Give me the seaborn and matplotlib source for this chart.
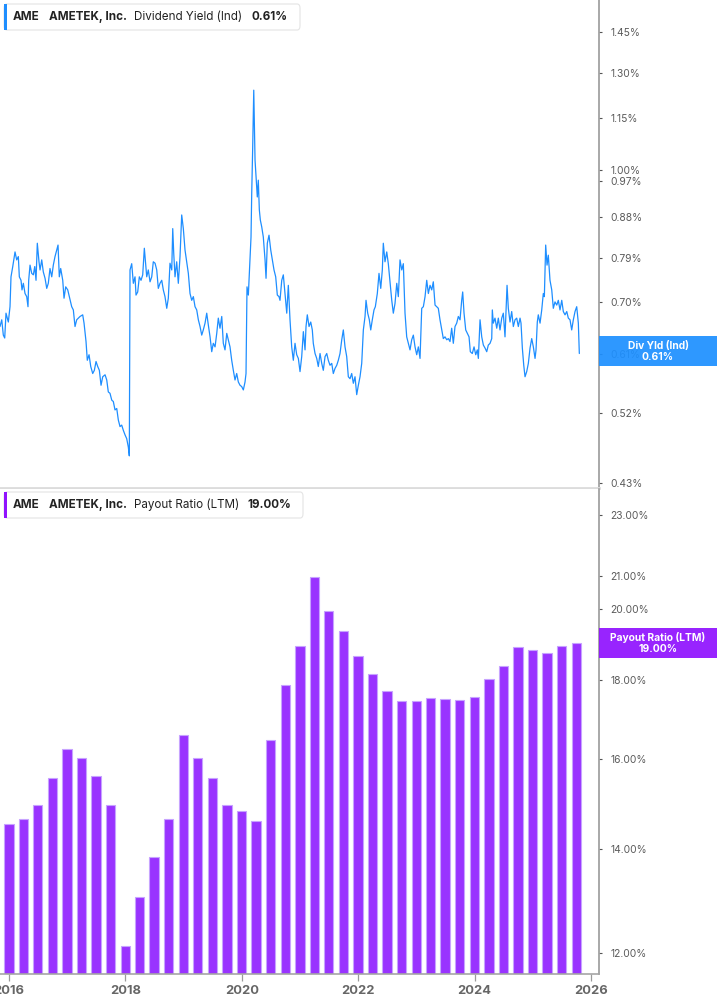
import numpy as np
import pandas as pd
import matplotlib.pyplot as plt
import seaborn as sns
from matplotlib.patches import Rectangle, FancyBboxPatch
from matplotlib.ticker import FixedLocator, FixedFormatter, NullLocator

# ---- data ----
# dividend yield (indicated), % -- decimal year / value
yield_dates = [
    2015.845, 2015.875, 2015.902, 2015.926, 2015.948, 2015.988, 2016.017, 2016.034, 2016.064, 2016.103,
    2016.132, 2016.160, 2016.177, 2016.206, 2016.223, 2016.246, 2016.275, 2016.304, 2016.326, 2016.338,
    2016.361, 2016.390, 2016.418, 2016.442, 2016.464, 2016.486, 2016.515, 2016.533, 2016.562, 2016.589,
    2016.619, 2016.648, 2016.675, 2016.704, 2016.734, 2016.761, 2016.790, 2016.820, 2016.842, 2016.864,
    2016.888, 2016.923, 2016.945, 2016.974, 2017.009, 2017.036, 2017.077, 2017.105, 2017.134, 2017.163,
    2017.191, 2017.220, 2017.266, 2017.289, 2017.323, 2017.345, 2017.375, 2017.404, 2017.438, 2017.466,
    2017.495, 2017.524, 2017.552, 2017.581, 2017.610, 2017.650, 2017.679, 2017.706, 2017.735, 2017.765,
    2017.792, 2017.821, 2017.851, 2017.878, 2017.907, 2017.936, 2017.964, 2017.993, 2018.022, 2018.050,
    2018.067, 2018.079, 2018.108, 2018.136, 2018.165, 2018.182, 2018.211, 2018.239, 2018.268, 2018.297,
    2018.325, 2018.366, 2018.393, 2018.423, 2018.452, 2018.479, 2018.509, 2018.538, 2018.565, 2018.594,
    2018.624, 2018.651, 2018.680, 2018.710, 2018.737, 2018.766, 2018.796, 2018.813, 2018.830, 2018.852,
    2018.881, 2018.909, 2018.938, 2018.967, 2018.995, 2019.024, 2019.053, 2019.081, 2019.110, 2019.139,
    2019.167, 2019.196, 2019.225, 2019.253, 2019.282, 2019.311, 2019.338, 2019.368, 2019.397, 2019.424,
    2019.454, 2019.483, 2019.510, 2019.540, 2019.569, 2019.596, 2019.625, 2019.655, 2019.682, 2019.711,
    2019.741, 2019.768, 2019.797, 2019.826, 2019.854, 2019.883, 2019.912, 2019.940, 2019.969, 2019.998,
    2020.026, 2020.055, 2020.072, 2020.089, 2020.112, 2020.141, 2020.158, 2020.170, 2020.187, 2020.205,
    2020.227, 2020.249, 2020.266, 2020.283, 2020.301, 2020.318, 2020.342, 2020.369, 2020.399, 2020.416,
    2020.438, 2020.467, 2020.497, 2020.524, 2020.553, 2020.582, 2020.610, 2020.639, 2020.656, 2020.686,
    2020.713, 2020.742, 2020.772, 2020.799, 2020.828, 2020.857, 2020.885, 2020.914, 2020.943, 2020.971,
    2021.000, 2021.029, 2021.057, 2021.086, 2021.103, 2021.125, 2021.155, 2021.184, 2021.211, 2021.228,
    2021.258, 2021.287, 2021.314, 2021.344, 2021.373, 2021.400, 2021.430, 2021.459, 2021.486, 2021.515,
    2021.545, 2021.572, 2021.601, 2021.631, 2021.658, 2021.687, 2021.717, 2021.744, 2021.773, 2021.802,
    2021.830, 2021.859, 2021.888, 2021.916, 2021.945, 2021.974, 2022.002, 2022.031, 2022.060, 2022.088,
    2022.117, 2022.134, 2022.163, 2022.191, 2022.215, 2022.242, 2022.271, 2022.294, 2022.328, 2022.357,
    2022.387, 2022.414, 2022.431, 2022.460, 2022.490, 2022.517, 2022.546, 2022.576, 2022.603, 2022.632,
    2022.662, 2022.689, 2022.718, 2022.748, 2022.775, 2022.804, 2022.833, 2022.861, 2022.890, 2022.919,
    2022.947, 2022.976, 2023.005, 2023.033, 2023.062, 2023.091, 2023.119, 2023.148, 2023.177, 2023.205,
    2023.234, 2023.263, 2023.290, 2023.320, 2023.349, 2023.376, 2023.405, 2023.435, 2023.462, 2023.491,
    2023.521, 2023.548, 2023.577, 2023.606, 2023.634, 2023.663, 2023.692, 2023.720, 2023.749, 2023.778,
    2023.795, 2023.818, 2023.847, 2023.875, 2023.904, 2023.926, 2023.960, 2023.990, 2024.019, 2024.046,
    2024.064, 2024.081, 2024.093, 2024.122, 2024.150, 2024.179, 2024.208, 2024.235, 2024.265, 2024.294,
    2024.304, 2024.321, 2024.350, 2024.380, 2024.407, 2024.436, 2024.466, 2024.493, 2024.522, 2024.539,
    2024.557, 2024.579, 2024.608, 2024.637, 2024.665, 2024.694, 2024.723, 2024.751, 2024.780, 2024.797,
    2024.820, 2024.844, 2024.866, 2024.895, 2024.923, 2024.952, 2024.981, 2025.009, 2025.038, 2025.055,
    2025.077, 2025.094, 2025.124, 2025.153, 2025.180, 2025.198, 2025.221, 2025.244, 2025.266, 2025.295,
    2025.325, 2025.352, 2025.381, 2025.411, 2025.438, 2025.467, 2025.497, 2025.524, 2025.553, 2025.583,
    2025.610, 2025.639, 2025.668, 2025.696, 2025.725, 2025.754, 2025.782, 2025.799,
]
yield_values = [
    0.656, 0.668, 0.641, 0.636, 0.680, 0.664, 0.692, 0.750, 0.771, 0.802,
    0.785, 0.792, 0.750, 0.743, 0.724, 0.737, 0.717, 0.711, 0.692, 0.743,
    0.774, 0.757, 0.754, 0.771, 0.743, 0.821, 0.781, 0.764, 0.785, 0.760,
    0.747, 0.727, 0.737, 0.767, 0.750, 0.774, 0.792, 0.806, 0.817, 0.750,
    0.767, 0.743, 0.708, 0.730, 0.724, 0.711, 0.692, 0.686, 0.656, 0.668,
    0.671, 0.674, 0.677, 0.662, 0.630, 0.599, 0.608, 0.589, 0.578, 0.583,
    0.597, 0.589, 0.583, 0.560, 0.573, 0.576, 0.568, 0.550, 0.548, 0.538,
    0.536, 0.524, 0.526, 0.510, 0.501, 0.503, 0.496, 0.490, 0.485, 0.474,
    0.463, 0.764, 0.777, 0.737, 0.750, 0.714, 0.720, 0.750, 0.743, 0.754,
    0.810, 0.750, 0.764, 0.740, 0.750, 0.781, 0.778, 0.764, 0.727, 0.737,
    0.743, 0.724, 0.711, 0.689, 0.708, 0.778, 0.764, 0.854, 0.799, 0.750,
    0.781, 0.737, 0.792, 0.886, 0.854, 0.806, 0.781, 0.757, 0.717, 0.704,
    0.711, 0.692, 0.686, 0.668, 0.656, 0.641, 0.650, 0.662, 0.680, 0.659,
    0.638, 0.613, 0.627, 0.621, 0.644, 0.671, 0.653, 0.674, 0.627, 0.616,
    0.644, 0.633, 0.621, 0.599, 0.583, 0.568, 0.578, 0.565, 0.560, 0.558,
    0.553, 0.565, 0.578, 0.730, 0.714, 0.785, 0.835, 0.939, 1.065, 1.240,
    1.027, 0.973, 0.930, 0.973, 0.898, 0.874, 0.858, 0.835, 0.785, 0.747,
    0.821, 0.839, 0.806, 0.785, 0.764, 0.750, 0.714, 0.711, 0.704, 0.743,
    0.754, 0.717, 0.680, 0.733, 0.668, 0.621, 0.599, 0.627, 0.608, 0.602,
    0.581, 0.605, 0.647, 0.616, 0.656, 0.677, 0.656, 0.664, 0.650, 0.627,
    0.610, 0.602, 0.589, 0.610, 0.594, 0.583, 0.605, 0.610, 0.599, 0.591,
    0.594, 0.578, 0.586, 0.591, 0.599, 0.610, 0.633, 0.650, 0.621, 0.605,
    0.573, 0.570, 0.578, 0.563, 0.573, 0.546, 0.560, 0.573, 0.594, 0.650,
    0.674, 0.704, 0.680, 0.668, 0.650, 0.668, 0.686, 0.692, 0.717, 0.757,
    0.727, 0.764, 0.821, 0.781, 0.802, 0.777, 0.740, 0.704, 0.680, 0.698,
    0.737, 0.711, 0.785, 0.764, 0.777, 0.680, 0.638, 0.627, 0.616, 0.633,
    0.641, 0.621, 0.608, 0.621, 0.602, 0.689, 0.692, 0.711, 0.743, 0.717,
    0.733, 0.724, 0.740, 0.695, 0.692, 0.689, 0.668, 0.650, 0.635, 0.638,
    0.633, 0.635, 0.630, 0.653, 0.627, 0.656, 0.662, 0.674, 0.668, 0.704,
    0.720, 0.680, 0.650, 0.644, 0.638, 0.613, 0.610, 0.621, 0.608, 0.616,
    0.602, 0.638, 0.668, 0.638, 0.624, 0.619, 0.613, 0.624, 0.627, 0.635,
    0.686, 0.662, 0.671, 0.653, 0.671, 0.650, 0.671, 0.680, 0.638, 0.683,
    0.733, 0.689, 0.664, 0.683, 0.656, 0.668, 0.671, 0.656, 0.671, 0.662,
    0.619, 0.591, 0.573, 0.581, 0.594, 0.619, 0.635, 0.621, 0.602, 0.616,
    0.664, 0.677, 0.662, 0.686, 0.717, 0.711, 0.817, 0.774, 0.795, 0.743,
    0.724, 0.689, 0.701, 0.695, 0.704, 0.686, 0.704, 0.683, 0.677, 0.683,
    0.671, 0.668, 0.650, 0.668, 0.683, 0.692, 0.662, 0.610,
]

# payout ratio (LTM), % -- one bar per quarter end
payout_quarters = pd.period_range("2015Q4", "2025Q3", freq="Q")
payout_values = [
    14.54, 14.65, 14.95, 15.56, 16.25, 16.03, 15.60, 14.95,
    12.13, 13.04, 13.83, 14.63, 16.58, 16.03, 15.55, 14.95,
    14.81, 14.60, 16.47, 17.86, 18.92, 20.96, 19.93, 19.35,
    18.64, 18.15, 17.70, 17.45, 17.44, 17.51, 17.49, 17.47,
    17.55, 18.02, 18.37, 18.90, 18.81, 18.74, 18.94, 19.00,
]

yield_ticks = [0.43, 0.52, 0.61, 0.70, 0.79, 0.88, 0.97, 1.00, 1.15, 1.30, 1.45]
payout_ticks = [12, 14, 16, 18, 20, 21, 23]
year_ticks = [2016, 2018, 2020, 2022, 2024, 2026]

BLUE = "#1E8EFF"
PURPLE = "#9933FF"
PURPLE_LBL = "#9013FE"


def to_decimal_year(ts):
    start = pd.Timestamp(year=ts.year, month=1, day=1)
    days = 366 if ts.is_leap_year else 365
    return ts.year + (ts - start).days / days


bar_x = [to_decimal_year(p.end_time.normalize()) for p in payout_quarters]

sns.set_theme(style="white")
plt.rcParams["font.family"] = ["Inter", "DejaVu Sans"]

W, H = 717, 1005
fig = plt.figure(figsize=(W / 100, H / 100), dpi=100)


def fx(px):
    return px / W


def fy(py):
    return 1 - py / H


ax1 = fig.add_axes([0, fy(488), fx(599), 488 / H])
ax2 = fig.add_axes([0, fy(974), fx(599), (974 - 489) / H])

# top: dividend yield line
df_y = pd.DataFrame({"date": yield_dates, "yield": yield_values})
sns.lineplot(data=df_y, x="date", y="yield", ax=ax1, color=BLUE,
             linewidth=0.9, estimator=None)

# bottom: payout ratio bars
df_p = pd.DataFrame({"date": bar_x, "payout": payout_values})
sns.barplot(data=df_p, x="date", y="payout", ax=ax2, native_scale=True,
            color=PURPLE, saturation=1, width=0.65,
            edgecolor="#C7A3FF", linewidth=0.8)

xmin, xmax = 2015.845, 2026.137
for ax in (ax1, ax2):
    ax.set_xlim(xmin, xmax)
    ax.set_yscale("log")
    ax.set_xlabel("")
    ax.set_ylabel("")
    ax.yaxis.tick_right()
    ax.yaxis.set_minor_locator(NullLocator())
    ax.spines["top"].set_visible(False)
    ax.spines["left"].set_visible(False)
    ax.spines["right"].set_color("#9a9a9a")
    ax.spines["right"].set_linewidth(1.2)
    ax.tick_params(axis="y", which="major", length=2, width=0.8, color="#555555",
                   labelsize=7.4, labelcolor="#5a5a5a", pad=6, right=True, left=False)
    ax.set_facecolor("white")

ax1.set_ylim(0.4246, 1.581)
ax1.yaxis.set_major_locator(FixedLocator(yield_ticks))
ax1.yaxis.set_major_formatter(FixedFormatter([f"{t:.2f}%" for t in yield_ticks]))
ax1.set_xticks([])
ax1.spines["bottom"].set_color("#dcdcdc")
ax1.spines["bottom"].set_linewidth(2)

ax2.set_ylim(11.63, 23.9)
ax2.yaxis.set_major_locator(FixedLocator(payout_ticks))
ax2.yaxis.set_major_formatter(FixedFormatter([f"{t:.2f}%" for t in payout_ticks]))
ax2.set_xticks(year_ticks)
ax2.set_xticklabels([str(y) for y in year_ticks])
ax2.xaxis.set_minor_locator(NullLocator())
ax2.spines["bottom"].set_color("#a5a5a5")
ax2.spines["bottom"].set_linewidth(1.2)
ax2.tick_params(axis="x", length=5, width=0.9, color="#9a9a9a", labelsize=9.3,
                labelcolor="#666666", pad=3, bottom=True)
for lbl in ax2.get_xticklabels():
    lbl.set_fontweight("bold")


# legend header boxes
def header(top, bottom, right, color, words):
    box = FancyBboxPatch((fx(4), fy(bottom)), fx(right - 4), (bottom - top) / H,
                         boxstyle="round,pad=0,rounding_size=0.004",
                         transform=fig.transFigure, fc="white", ec="#e4e4e4",
                         lw=0.8, zorder=5)
    fig.patches.append(box)
    fig.patches.append(Rectangle((fx(4), fy(bottom)), fx(3), (bottom - top) / H,
                                 transform=fig.transFigure, fc=color, ec="none",
                                 zorder=6))
    yc = fy((top + bottom) / 2)
    for x, txt, w in words:
        fig.text(fx(x), yc, txt, fontsize=8.4, fontweight=w, color="#222222",
                 ha="left", va="center", zorder=7)


header(4, 30, 300, BLUE, [(13, "AME", "bold"), (49, "AMETEK, Inc.", "bold"),
                          (134, "Dividend Yield (Ind)", "normal"), (251, "0.61%", "bold")])
header(492, 518, 303, PURPLE_LBL, [(13, "AME", "bold"), (49, "AMETEK, Inc.", "bold"),
                                   (134, "Payout Ratio (LTM)", "normal"), (247, "19.00%", "bold")])


# last-value tags on the right axis
def tag(top, bottom, color, line1, line2):
    fig.patches.append(Rectangle((fx(599), fy(bottom)), fx(118), (bottom - top) / H,
                                 transform=fig.transFigure, fc=color, ec="none",
                                 alpha=0.93, zorder=5))
    mid = (top + bottom) / 2
    fig.text(fx(658), fy(mid - 5.5), line1, color="white", fontsize=7.4,
             fontweight="bold", ha="center", va="center", zorder=6)
    fig.text(fx(658), fy(mid + 5.5), line2, color="white", fontsize=7.4,
             fontweight="bold", ha="center", va="center", zorder=6)


tag(336, 366, "#1E90FF", "Div Yld (Ind)", "0.61%")
tag(628, 658, PURPLE_LBL, "Payout Ratio (LTM)", "19.00%")

fig.savefig("out.png", dpi=100, facecolor="white")
